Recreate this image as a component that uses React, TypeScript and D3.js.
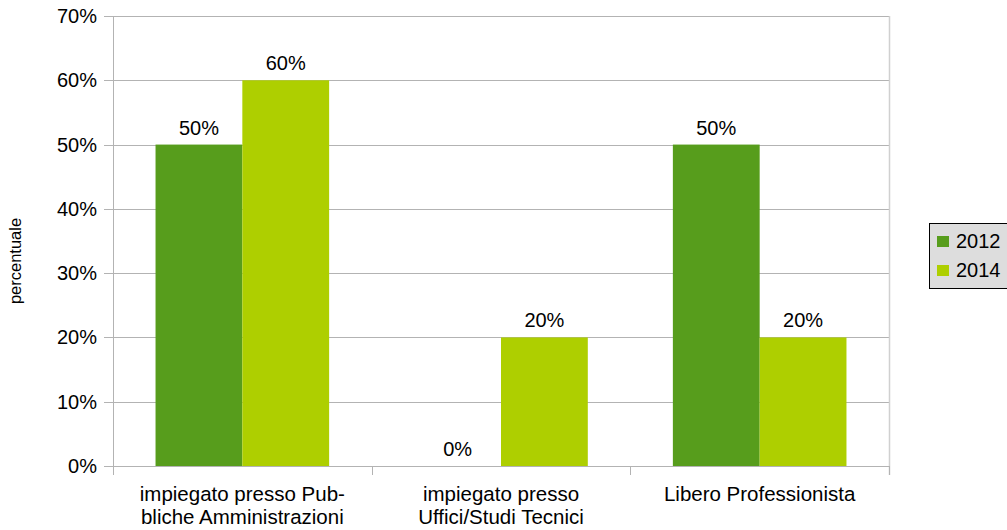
import React from "react";
import * as d3 from "d3";

const categories = [
  ["impiegato presso Pub-", "bliche Amministrazioni"],
  ["impiegato presso", "Uffici/Studi Tecnici"],
  ["Libero Professionista"],
];
const seriesNames = ["2012", "2014"];
const values2012 = [0.5, 0, 0.5];
const values2014 = [0.6, 0.2, 0.2];
const yTicks = [0, 0.1, 0.2, 0.3, 0.4, 0.5, 0.6, 0.7];
const colors = ["#579d1c", "#aecf00"];

const W = 1007;
const H = 530;
const M = { left: 113, right: 889, top: 16, bottom: 466 };
const FONT = "'Liberation Sans', Arial, sans-serif";

export default function App() {
  const series = [values2012, values2014];
  const x = d3
    .scaleBand<number>()
    .domain(categories.map((_, i) => i))
    .range([M.left, M.right]);
  const y = d3.scaleLinear().domain([0, 0.7]).range([M.bottom, M.top]);
  const inner = d3
    .scaleBand<number>()
    .domain(series.map((_, i) => i))
    .range([0, x.bandwidth()])
    .paddingOuter(0.49)
    .paddingInner(0);
  const fmt = d3.format(".0%");
  const gridColor = "#b3b3b3";

  return (
    <div style={{ position: "absolute", left: 0, top: 0 }}>
      <svg width={W} height={H} style={{ display: "block", fontFamily: FONT }}>
        <rect width={W} height={H} fill="#fff" />
        {/* gridlines */}
        {yTicks.map((t) => (
          <line
            key={t}
            x1={M.left - 9}
            x2={M.right}
            y1={Math.round(y(t)) + 0.5}
            y2={Math.round(y(t)) + 0.5}
            stroke={gridColor}
            strokeWidth={1}
          />
        ))}
        {/* right border */}
        <line
          x1={M.right + 0.5}
          x2={M.right + 0.5}
          y1={M.top}
          y2={M.bottom + 9}
          stroke="#d0d0d0"
          strokeWidth={1.5}
        />
        {/* bars */}
        {categories.map((_, ci) =>
          series.map((vals, si) => {
            const bx = (x(ci) as number) + (inner(si) as number);
            const by = y(vals[ci]);
            return (
              <g key={`${ci}-${si}`}>
                <rect
                  x={bx}
                  y={by}
                  width={inner.bandwidth()}
                  height={M.bottom - by}
                  fill={colors[si]}
                />
                <text
                  x={bx + inner.bandwidth() / 2}
                  y={by - 10}
                  textAnchor="middle"
                  fontSize={20}
                  fill="#000"
                >
                  {fmt(vals[ci])}
                </text>
              </g>
            );
          })
        )}
        {/* y axis line */}
        <line
          x1={M.left + 0.5}
          x2={M.left + 0.5}
          y1={M.top}
          y2={M.bottom + 9}
          stroke={gridColor}
        />
        {/* x axis line */}
        <line
          x1={M.left}
          x2={M.right}
          y1={M.bottom + 0.5}
          y2={M.bottom + 0.5}
          stroke={gridColor}
        />
        {/* category ticks */}
        {categories.map((_, ci) => {
          const tx = Math.round((x(ci) as number) + x.bandwidth()) + 0.5;
          return (
            <line
              key={ci}
              x1={tx}
              x2={tx}
              y1={M.bottom}
              y2={M.bottom + 9}
              stroke={gridColor}
            />
          );
        })}
        {/* y tick labels */}
        {yTicks.map((t) => (
          <text
            key={t}
            x={97}
            y={y(t)}
            dy="0.35em"
            textAnchor="end"
            fontSize={20}
            fill="#000"
          >
            {fmt(t)}
          </text>
        ))}
        {/* category labels */}
        {categories.map((lines, ci) => (
          <text
            key={ci}
            x={(x(ci) as number) + x.bandwidth() / 2}
            textAnchor="middle"
            fontSize={20.5}
            fill="#000"
          >
            {lines.map((l, li) => (
              <tspan
                key={li}
                x={(x(ci) as number) + x.bandwidth() / 2}
                y={501 + li * 23}
              >
                {l}
              </tspan>
            ))}
          </text>
        ))}
        {/* axis title */}
        <text
          transform={`translate(21, 261) rotate(-90)`}
          textAnchor="middle"
          fontSize={16.5}
          fill="#000"
        >
          percentuale
        </text>
        {/* legend */}
        <rect
          x={929.5}
          y={223.5}
          width={90}
          height={65}
          fill="#dddddd"
          stroke="#000"
          strokeWidth={1}
        />
        {seriesNames.map((n, i) => (
          <g key={n}>
            <rect
              x={937}
              y={236 + i * 29}
              width={12}
              height={11}
              fill={colors[i]}
            />
            <text x={956} y={248 + i * 29} fontSize={20} fill="#000">
              {n}
            </text>
          </g>
        ))}
      </svg>
    </div>
  );
}
